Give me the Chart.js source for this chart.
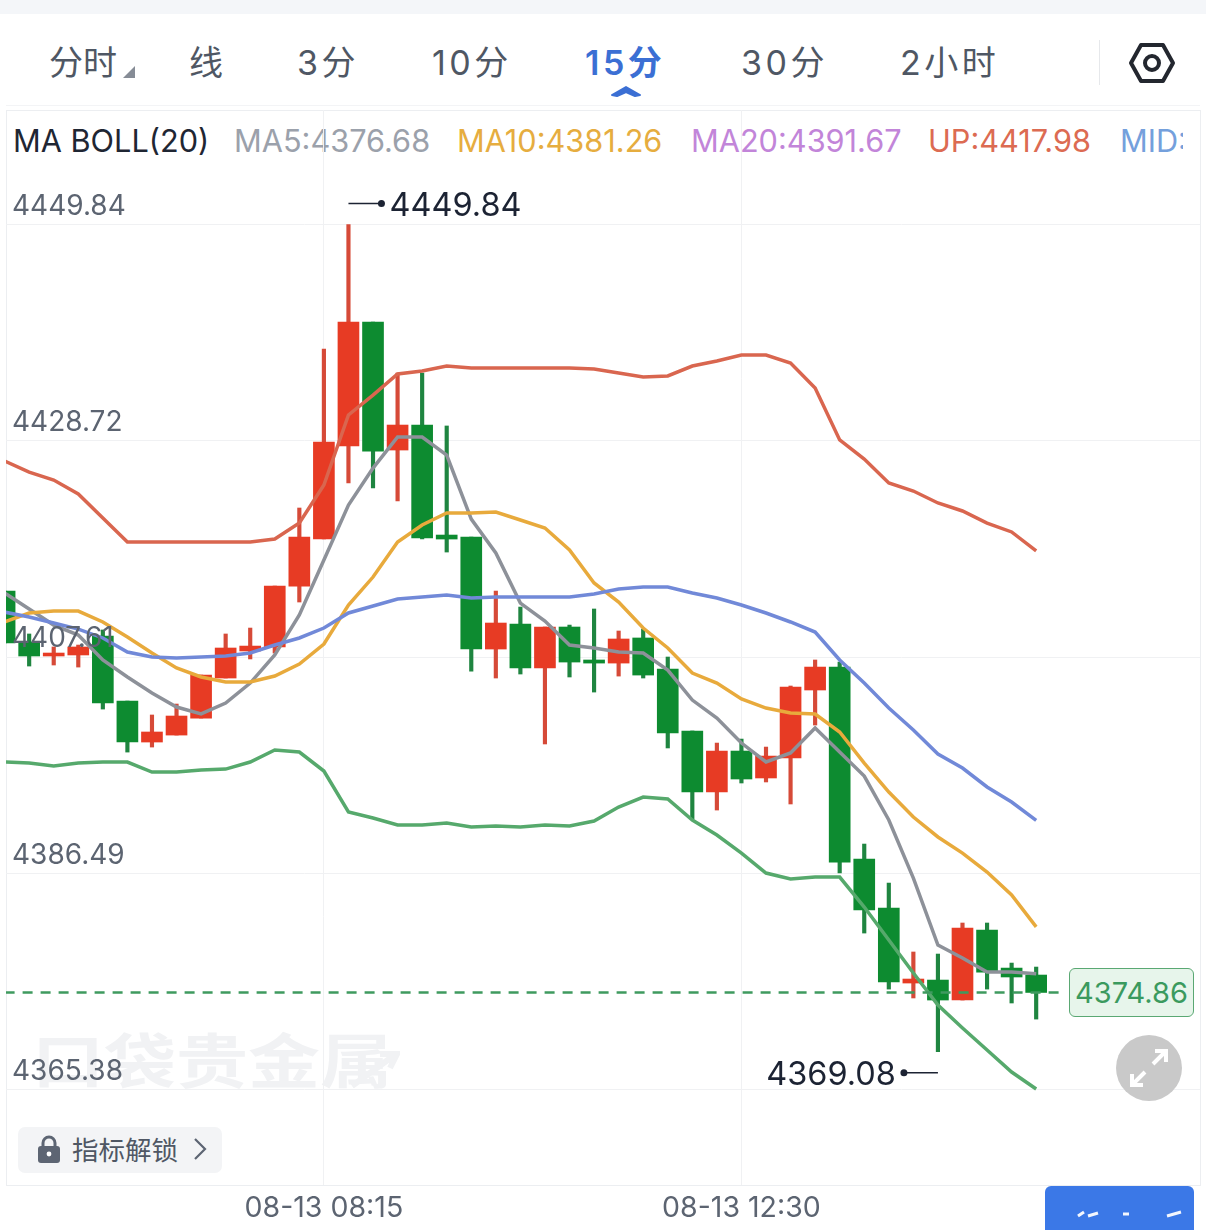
<!DOCTYPE html>
<html>
<head>
<meta charset="utf-8">
<title>15分 K线</title>
<script src="https://cdn.jsdelivr.net/npm/chart.js@4"></script>
<style>
    html, body { margin: 0; padding: 0; background: #fff; }
    #page { position: relative; width: 1206px; height: 1230px; overflow: hidden; font-family: Inter, "Noto Sans CJK SC", sans-serif; }
    #page > * { position: absolute; }
    #chart { left: 0; top: 0; }
    .tab { top: 41px; font-size: 34px; line-height: 44px; color: #4f5764; white-space: nowrap; }
    .tab.num { letter-spacing: 3.5px; }
    .tab.active { color: #3b6fd4; font-weight: 600; }
    .legend { top: 122px; font-size: 30.7px; line-height: 38px; white-space: nowrap; }
</style>
</head>
<body>
<div id="page">
    <div style="left:0;top:0;width:1206px;height:14px;background:#f4f6f9"></div>
    <div style="left:6px;top:105px;width:1194px;height:1px;background:#f3f4f6"></div>
    <div style="left:6px;top:110px;width:1193px;height:1074px;border:1px solid #eceef1"></div>

    <div id="watermark" style="left:32px;top:1029px;font-size:72px;line-height:80px;font-weight:700;color:#f1f2f4;white-space:nowrap;transform:scaleY(.82);transform-origin:left top;">口袋贵金属</div>
    <svg style="left:350px;top:1048px" width="50" height="40"><path d="M2 38L46 6M30 6H47L40 20" fill="none" stroke="#f1f2f4" stroke-width="6"/></svg>

    <div class="tab" style="left:49px">分时</div>
    <svg style="left:122px;top:65px" width="14" height="14"><path d="M13 1V13H1Z" fill="#868c96"/></svg>
    <div class="tab" style="left:189px">线</div>
    <div class="tab num" style="left:297px">3分</div>
    <div class="tab num" style="left:432px">10分</div>
    <div class="tab num active" style="left:585px">15分</div>
    <div class="tab num" style="left:741px">30分</div>
    <div class="tab num" style="left:900px">2小时</div>
    <svg style="left:610px;top:84px" width="32" height="14"><path d="M2 11 L16 3 L30 11 L25 12 L16 8 L7 12 Z" fill="#3b6fd4" stroke="#3b6fd4" stroke-width="2" stroke-linejoin="round"/></svg>
    <div style="left:1099px;top:40px;width:1px;height:45px;background:#e6e8eb"></div>
    <svg style="left:1128px;top:42px" width="48" height="42" viewBox="0 0 48 42">
        <path d="M13 3H35L45 21L35 39H13L3 21Z" fill="none" stroke="#23272f" stroke-width="4" stroke-linejoin="round"/>
        <circle cx="24" cy="21" r="7" fill="none" stroke="#23272f" stroke-width="4"/>
    </svg>

    <div class="legend" style="left:13px;color:#1f2633">MA BOLL(20)</div>
    <div class="legend" style="left:234px;color:#9ba1ab">MA5:4376.68</div>
    <div class="legend" style="left:457px;color:#e6ad3f">MA10:4381.26</div>
    <div class="legend" style="left:691px;color:#c285d9">MA20:4391.67</div>
    <div class="legend" style="left:928px;color:#dc6b52">UP:4417.98</div>
    <div class="legend" style="left:1120px;width:63px;overflow:hidden;color:#74a0dc">MID:4391.67</div>

    <canvas id="chart" width="1206" height="1230"></canvas>

    <div style="left:1069px;top:968px;width:123px;height:47px;border:1.5px solid #5aa873;border-radius:6px;background:#e7f5eb;color:#3b9a5e;font-size:29px;line-height:47px;text-align:center;">4374.86</div>

    <svg style="left:1116px;top:1035px" width="66" height="66" viewBox="0 0 66 66">
        <circle cx="33" cy="33" r="33" fill="#c9c9c9"/>
        <path d="M37 29L49 17M39 16H50V27M29 37L17 49M16 39V50H27" fill="none" stroke="#fff" stroke-width="4"/>
    </svg>

    <div style="left:18px;top:1127px;width:204px;height:46px;background:#f3f4f6;border-radius:7px"></div>
    <svg style="left:36px;top:1134px" width="26" height="30" viewBox="0 0 26 30">
        <path d="M7 13V9a6 6 0 0 1 12 0V13" fill="none" stroke="#5d6573" stroke-width="3"/>
        <rect x="2" y="12" width="22" height="17" rx="3" fill="#5d6573"/>
        <circle cx="13" cy="20" r="2.4" fill="#fff"/>
    </svg>
    <div style="left:72px;top:1132px;font-size:26.5px;line-height:36px;color:#4f5764;white-space:nowrap">指标解锁</div>
    <svg style="left:192px;top:1137px" width="16" height="24"><path d="M3 2L13 12L3 22" fill="none" stroke="#5d6573" stroke-width="2.2"/></svg>

    <div style="left:1045px;top:1186px;width:149px;height:44px;background:#3b78e7;border-radius:6px 6px 0 0"></div>
    <svg style="left:1045px;top:1186px" width="149" height="44">
        <path d="M33 30L39 26M43 30L53 27M78 28H84M122 30L136 26" stroke="#f3f6fd" stroke-width="3" fill="none"/>
    </svg>
</div>

<script>
// 15 minute bars, 08-13
const timeLabels = [
    '08-13 05:00', '08-13 05:15', '08-13 05:30', '08-13 05:45', '08-13 06:00', '08-13 06:15', '08-13 06:30', '08-13 06:45',
    '08-13 07:00', '08-13 07:15', '08-13 07:30', '08-13 07:45', '08-13 08:00', '08-13 08:15', '08-13 08:30', '08-13 08:45',
    '08-13 09:00', '08-13 09:15', '08-13 09:30', '08-13 09:45', '08-13 10:00', '08-13 10:15', '08-13 10:30', '08-13 10:45',
    '08-13 11:00', '08-13 11:15', '08-13 11:30', '08-13 11:45', '08-13 12:00', '08-13 12:15', '08-13 12:30', '08-13 12:45',
    '08-13 13:00', '08-13 13:15', '08-13 13:30', '08-13 13:45', '08-13 14:00', '08-13 14:15', '08-13 14:30', '08-13 14:45',
    '08-13 15:00', '08-13 15:15', '08-13 15:30'
];

const opens = [
    4414.05, 4409.08, 4407.71, 4407.81, 4409.66, 4403.31, 4399.31, 4399.99, 4401.65, 4405.56, 4408.20,
    4408.59, 4414.54, 4419.13, 4428.21, 4440.32, 4427.82, 4430.26, 4419.52, 4419.33, 4408.39, 4410.83,
    4406.54, 4410.54, 4407.32, 4407.02, 4409.47, 4406.44, 4400.39, 4394.43, 4398.43, 4395.80, 4397.75,
    4404.39, 4406.63, 4387.89, 4383.10, 4375.78, 4376.07, 4374.12, 4380.95, 4377.24, 4376.56
];
const closes = [
    4408.98, 4407.71, 4408.00, 4408.59, 4403.12, 4399.31, 4400.29, 4401.85, 4405.85, 4408.49, 4408.68,
    4414.54, 4419.33, 4428.60, 4440.32, 4427.72, 4430.26, 4419.23, 4419.13, 4408.39, 4410.93, 4406.54,
    4410.54, 4407.12, 4407.02, 4409.37, 4405.85, 4400.19, 4394.43, 4398.43, 4395.70, 4397.94, 4404.68,
    4406.63, 4387.59, 4382.91, 4375.88, 4376.17, 4374.12, 4381.15, 4376.85, 4376.37, 4374.86
];
const highs = [
    4414.05, 4409.86, 4408.59, 4408.78, 4410.25, 4403.31, 4401.95, 4403.02, 4405.85, 4409.86, 4410.44,
    4414.54, 4422.16, 4437.68, 4449.84, 4440.32, 4435.34, 4435.34, 4430.17, 4419.33, 4414.05, 4412.49,
    4410.54, 4410.73, 4412.30, 4410.15, 4410.34, 4407.61, 4400.39, 4399.21, 4399.60, 4398.82, 4404.78,
    4407.32, 4407.12, 4389.35, 4385.54, 4378.81, 4378.61, 4381.64, 4381.64, 4377.73, 4377.34
];
const lows = [
    4408.98, 4406.73, 4406.83, 4406.63, 4402.53, 4398.33, 4398.82, 4399.99, 4401.65, 4405.56, 4407.42,
    4408.00, 4412.98, 4419.13, 4424.60, 4424.11, 4422.84, 4419.13, 4417.86, 4406.24, 4405.56, 4405.95,
    4399.12, 4405.66, 4404.19, 4405.75, 4405.56, 4398.73, 4391.79, 4392.67, 4395.31, 4395.41, 4393.26,
    4400.97, 4386.52, 4380.66, 4375.19, 4374.32, 4369.08, 4374.12, 4375.19, 4373.83, 4372.26
];

const ma5 = [
    4413.86, 4412.30, 4410.73, 4409.76, 4407.32, 4405.66, 4404.09, 4402.73, 4402.05, 4403.12, 4405.07,
    4407.81, 4411.71, 4417.08, 4422.45, 4426.06, 4429.09, 4429.09, 4427.33, 4421.08, 4417.77, 4412.88,
    4411.13, 4408.78, 4408.49, 4408.10, 4408.00, 4406.34, 4403.41, 4401.65, 4399.21, 4397.36, 4398.24,
    4400.68, 4398.33, 4395.99, 4391.70, 4386.03, 4379.49, 4378.22, 4376.85, 4376.85, 4376.68
];
const ma10 = [
    4411.03, 4411.91, 4412.10, 4412.10, 4411.03, 4409.56, 4408.00, 4406.54, 4405.66, 4405.17, 4405.17,
    4405.75, 4406.93, 4408.88, 4412.69, 4415.42, 4418.84, 4420.50, 4421.67, 4421.67, 4421.77, 4420.99,
    4420.21, 4418.06, 4414.84, 4412.98, 4410.44, 4408.49, 4406.05, 4405.07, 4403.51, 4402.63, 4402.14,
    4402.05, 4400.29, 4397.26, 4394.43, 4391.99, 4390.04, 4388.47, 4386.62, 4384.37, 4381.26
];
const bollMid = [
    4412.00, 4411.52, 4410.93, 4410.34, 4409.47, 4408.10, 4407.61, 4407.51, 4407.61, 4407.71, 4408.00,
    4408.78, 4409.47, 4410.44, 4411.91, 4412.59, 4413.27, 4413.47, 4413.66, 4413.37, 4413.47, 4413.47,
    4413.47, 4413.47, 4413.76, 4414.25, 4414.45, 4414.45, 4413.86, 4413.37, 4412.69, 4411.91, 4411.03,
    4410.05, 4407.32, 4405.07, 4402.63, 4400.48, 4398.14, 4396.77, 4394.92, 4393.45, 4391.67
];
const bollUp = [
    4426.75, 4425.67, 4424.89, 4423.53, 4421.18, 4418.84, 4418.84, 4418.84, 4418.84, 4418.84, 4418.84,
    4419.13, 4420.69, 4424.40, 4431.24, 4433.19, 4435.24, 4435.54, 4436.02, 4435.83, 4435.83, 4435.83,
    4435.83, 4435.83, 4435.73, 4435.34, 4434.95, 4435.05, 4436.02, 4436.51, 4437.10, 4437.10, 4436.32,
    4433.88, 4428.80, 4426.94, 4424.60, 4423.82, 4422.65, 4421.87, 4420.69, 4419.82, 4417.98
];
const bollLow = [
    4397.36, 4397.26, 4396.97, 4397.26, 4397.36, 4397.36, 4396.38, 4396.38, 4396.58, 4396.67, 4397.36,
    4398.53, 4398.33, 4396.48, 4392.48, 4391.89, 4391.21, 4391.21, 4391.40, 4391.01, 4391.11, 4391.01,
    4391.21, 4391.11, 4391.60, 4392.96, 4393.94, 4393.75, 4391.70, 4390.23, 4388.47, 4386.52, 4385.93,
    4386.13, 4386.13, 4383.20, 4379.98, 4376.76, 4373.63, 4371.39, 4369.24, 4367.09, 4365.43
];

const priceTicks = [4449.84, 4428.72, 4407.61, 4386.49, 4365.38];
const timeTicks = [13, 30];
const lastPrice = 4374.86;

const UP_COLOR = '#e73b24';
const DOWN_COLOR = '#0d8b30';
const UP_WICK = '#d64a38';
const DOWN_WICK = '#1f8540';

function candleColors(upColor, downColor) {
    return closes.map((c, i) => (c >= opens[i] ? upColor : downColor));
}

function lineDataset(label, values, color) {
    return {
        type: 'line',
        label: label,
        data: values.map((v, i) => ({ x: i, y: v })),
        borderColor: color,
        borderWidth: 3.5,
        pointRadius: 0,
        tension: 0,
        order: 1
    };
}

// High / low markers with the little leader line
const extremeMarkers = {
    id: 'extremeMarkers',
    afterDatasetsDraw(chart) {
        const { ctx, scales } = chart;
        const top = Math.max(...highs);
        const bottom = Math.min(...lows);
        const hx = scales.x.getPixelForValue(highs.indexOf(top));
        const hy = scales.y.getPixelForValue(top) - 21;
        const lx = scales.x.getPixelForValue(lows.indexOf(bottom));
        const ly = scales.y.getPixelForValue(bottom) + 21;

        ctx.save();
        ctx.strokeStyle = '#1c2333';
        ctx.fillStyle = '#1c2333';
        ctx.lineWidth = 1.5;
        ctx.font = '32.5px Inter';
        ctx.textBaseline = 'middle';

        ctx.beginPath();
        ctx.moveTo(hx, hy);
        ctx.lineTo(hx + 33, hy);
        ctx.stroke();
        ctx.beginPath();
        ctx.arc(hx + 33, hy, 3.5, 0, Math.PI * 2);
        ctx.fill();
        ctx.textAlign = 'left';
        ctx.fillText(top.toFixed(2), hx + 41, hy + 3);

        ctx.beginPath();
        ctx.moveTo(lx, ly);
        ctx.lineTo(lx - 34, ly);
        ctx.stroke();
        ctx.beginPath();
        ctx.arc(lx - 34, ly, 3.5, 0, Math.PI * 2);
        ctx.fill();
        ctx.textAlign = 'right';
        ctx.fillText(bottom.toFixed(2), lx - 42, ly + 3);
        ctx.restore();
    }
};

new Chart(document.getElementById('chart'), {
    data: {
        datasets: [
            {
                type: 'line',
                label: 'last',
                data: [{ x: 0, y: lastPrice }, { x: 43.05, y: lastPrice }],
                borderColor: '#3f9a5f',
                borderWidth: 2.5,
                borderDash: [10, 8],
                pointRadius: 0,
                order: 0
            },
            lineDataset('UP', bollUp, '#d9664f'),
            lineDataset('LOW', bollLow, '#56a96c'),
            lineDataset('MID', bollMid, '#7189d8'),
            lineDataset('MA10', ma10, '#e8aa3c'),
            lineDataset('MA5', ma5, '#8d9199'),
            {
                type: 'bar',
                label: 'body',
                data: opens.map((o, i) => ({ x: i, y: [o, closes[i]] })),
                backgroundColor: candleColors(UP_COLOR, DOWN_COLOR),
                barThickness: 21,
                grouped: false,
                order: 2
            },
            {
                type: 'bar',
                label: 'wick',
                data: highs.map((h, i) => ({ x: i, y: [lows[i], h] })),
                backgroundColor: candleColors(UP_WICK, DOWN_WICK),
                barThickness: 3.5,
                grouped: false,
                order: 3
            }
        ]
    },
    plugins: [extremeMarkers],
    options: {
        responsive: false,
        animation: false,
        layout: { padding: { left: 6, right: 6, top: 110, bottom: 0 } },
        plugins: { legend: { display: false }, tooltip: { enabled: false } },
        scales: {
            x: {
                type: 'linear',
                offset: false,
                min: 0.057,
                max: 48.67,
                afterBuildTicks(scale) { scale.ticks = timeTicks.map(v => ({ value: v })); },
                afterFit(scale) { scale.height = 45; },
                grid: { color: '#f0f1f3', offset: false, drawTicks: false },
                border: { display: false },
                ticks: {
                    autoSkip: false,
                    maxRotation: 0,
                    padding: 6,
                    color: '#5c6471',
                    font: { family: 'Inter', size: 28.5 },
                    callback: value => timeLabels[value]
                }
            },
            y: {
                min: 4356.06,
                max: 4461.02,
                afterBuildTicks(scale) { scale.ticks = priceTicks.map(v => ({ value: v })); },
                afterFit(scale) { scale.width = 0; },
                grid: { color: '#f0f1f3', drawTicks: false },
                border: { display: false },
                ticks: {
                    mirror: true,
                    autoSkip: false,
                    z: 1,
                    padding: 6,
                    labelOffset: -18,
                    color: '#5c6471',
                    font: { family: 'Inter', size: 28 },
                    callback: value => value.toFixed(2)
                }
            }
        }
    }
});
</script>
</body>
</html>
